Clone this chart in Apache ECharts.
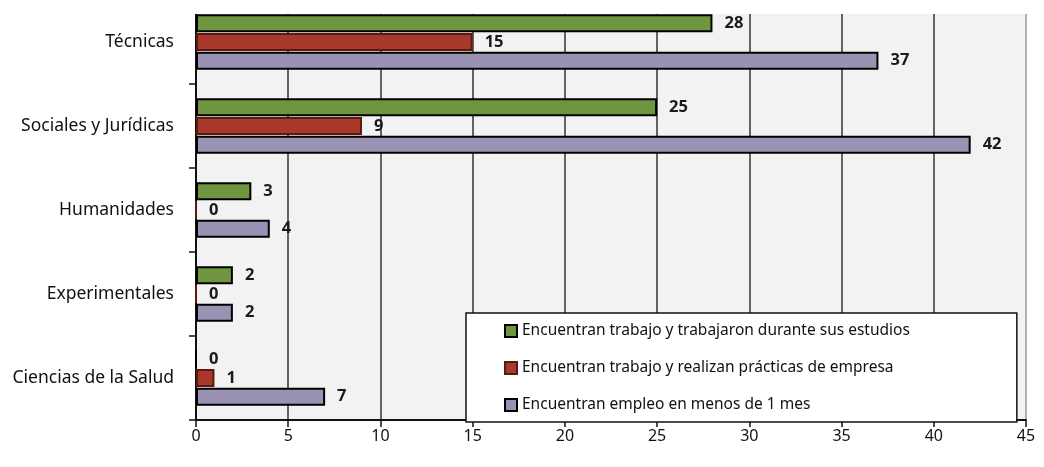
<!DOCTYPE html>
<html>
<head>
<meta charset="utf-8">
<script src="https://cdn.jsdelivr.net/npm/echarts@6/dist/echarts.min.js"></script>
<style>
  html, body { margin: 0; padding: 0; background: #fff; }
  #chart { width: 1044px; height: 467px; }
</style>
</head>
<body>
<div id="chart"></div>
<script>
// categories bottom -> top
const categories = ['Ciencias de la Salud', 'Experimentales', 'Humanidades', 'Sociales y Jurídicas', 'Técnicas']
const seriesNames = [
  'Encuentran trabajo y trabajaron durante sus estudios',
  'Encuentran trabajo y realizan prácticas de empresa',
  'Encuentran empleo en menos de 1 mes'
]
const trabajaronEstudios = [0, 2, 3, 25, 28]
const practicasEmpresa = [1, 0, 0, 9, 15]
const empleoMenos1Mes = [7, 2, 4, 42, 37]
const xTicks = [0, 45, 5]  // min, max, interval

const colors = {
  green: '#6f9540',
  red: '#a8382a',
  purple: '#9a92b2'
}
const font = '"Noto Sans", "Open Sans", sans-serif'

function barSeries(name, data, color, border) {
  return {
    name: name,
    type: 'bar',
    data: data,
    barWidth: 18,
    barGap: '4%',
    itemStyle: { color: color, borderColor: border, borderWidth: 2 },
    label: {
      show: true,
      position: 'right',
      distance: 12,
      color: '#1a1a1a',
      fontFamily: font,
      fontWeight: 'bold',
      fontSize: 16.5
    }
  }
}

const chart = echarts.init(document.getElementById('chart'))
chart.setOption({
  animation: false,
  backgroundColor: '#fff',
  grid: {
    left: 196,
    right: 18,
    top: -1,
    bottom: 47,
    show: true,
    backgroundColor: '#f2f2f2',
    borderColor: '#999',
    borderWidth: 1.5
  },
  legend: {
    data: [seriesNames[0], seriesNames[1], seriesNames[2]],
    orient: 'vertical',
    left: 466,
    top: 313,
    padding: [10, 107, 9, 38],
    itemGap: 21,
    itemWidth: 12,
    itemHeight: 12,
    icon: 'rect',
    backgroundColor: '#fff',
    borderColor: '#111',
    borderWidth: 1.5,
    textStyle: { fontFamily: font, fontSize: 15.5, color: '#111' }
  },
  xAxis: {
    type: 'value',
    min: xTicks[0],
    max: xTicks[1],
    interval: xTicks[2],
    axisLine: { show: true, lineStyle: { color: '#111', width: 2 } },
    axisTick: { show: true, length: 7, lineStyle: { color: '#111', width: 1.5 } },
    axisLabel: { margin: 8, color: '#111', fontFamily: font, fontSize: 16 },
    splitLine: { show: true, showMaxLine: false, lineStyle: { color: '#333', width: 1.5 } }
  },
  yAxis: {
    type: 'category',
    data: categories,
    axisLine: { show: true, lineStyle: { color: '#111', width: 2 } },
    axisTick: { show: true, length: 7, lineStyle: { color: '#111', width: 1.5 } },
    axisLabel: { margin: 22, color: '#111', fontFamily: font, fontSize: 17.5 },
    splitLine: { show: false }
  },
  series: [
    barSeries(seriesNames[0], trabajaronEstudios, colors.green, '#000'),
    barSeries(seriesNames[1], practicasEmpresa, colors.red, '#5a1a12'),
    barSeries(seriesNames[2], empleoMenos1Mes, colors.purple, '#000')
  ],
  graphic: [{
    type: 'rect',
    shape: { x: 0, y: 0, width: 1044, height: 14 },
    style: { fill: '#fff' },
    z: 100
  }]
})
</script>
</body>
</html>
